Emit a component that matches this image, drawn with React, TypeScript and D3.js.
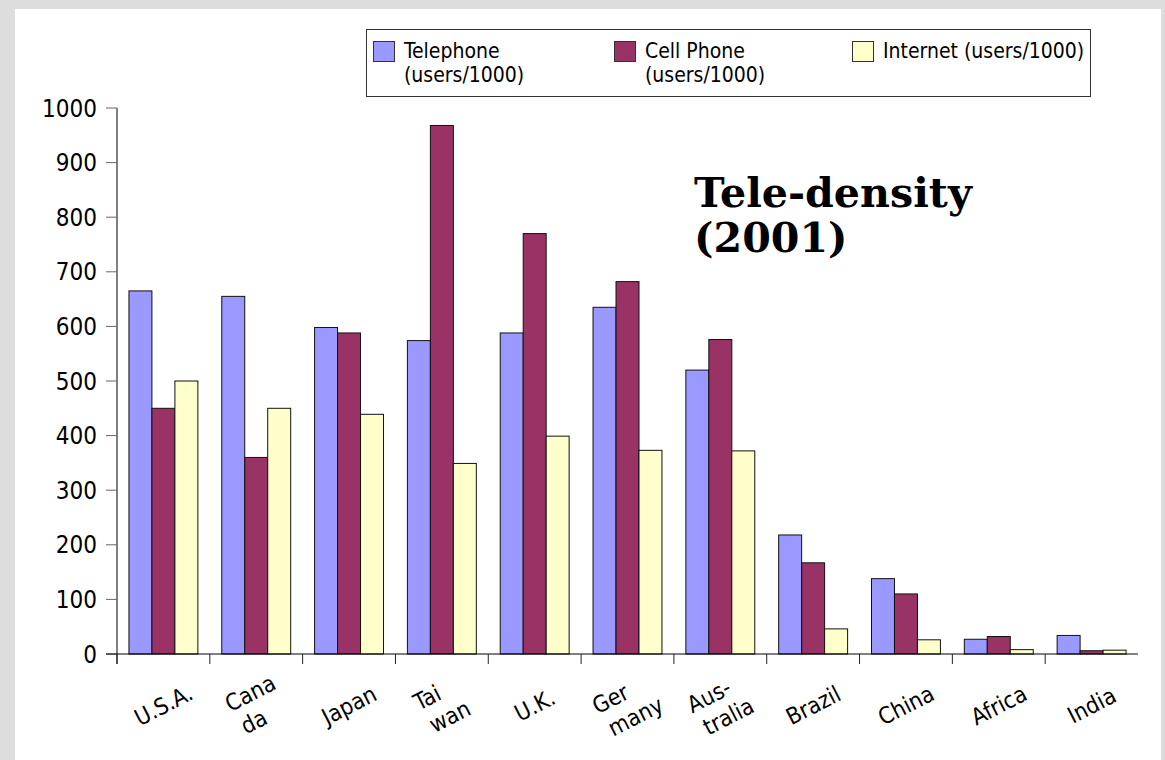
import React, { useEffect, useRef } from "react";
import * as d3 from "d3";

// Tele-density (2001): users per 1000 inhabitants
const countries = [
  ["U.S.A."],
  ["Cana", "da"],
  ["Japan"],
  ["Tai", "wan"],
  ["U.K."],
  ["Ger", "many"],
  ["Aus-", "tralia"],
  ["Brazil"],
  ["China"],
  ["Africa"],
  ["India"],
];
const telephone = [665, 655, 598, 574, 588, 635, 520, 218, 138, 27, 34];
const cellPhone = [450, 360, 588, 968, 770, 682, 576, 167, 110, 32, 6];
const internet = [500, 450, 439, 349, 399, 373, 372, 46, 26, 8, 7];
const yTicks = [0, 100, 200, 300, 400, 500, 600, 700, 800, 900, 1000];

const seriesNames = ["tel", "cell", "net"];
const seriesLegend = [
  ["Telephone", "(users/1000)"],
  ["Cell Phone", "(users/1000)"],
  ["Internet (users/1000)"],
];
const seriesColors = ["#9999ff", "#993366", "#ffffcc"];
const titleLines = ["Tele-density", "(2001)"];

const W = 1165;
const H = 760;
const FONT = "'DejaVu Sans Condensed', 'DejaVu Sans', sans-serif";

export default function App() {
  const ref = useRef<SVGSVGElement | null>(null);

  useEffect(() => {
    const svg = d3.select(ref.current);
    svg.selectAll("*").remove();

    // page frame
    svg.append("rect").attr("width", W).attr("height", H).attr("fill", "#dddddd");
    svg.append("rect").attr("x", 15).attr("y", 9).attr("width", 1146).attr("height", H - 9).attr("fill", "#ffffff");

    const keys = countries.map((c) => c.join(""));
    const x = d3.scaleBand<string>().domain(keys).range([117, 1138]).paddingInner(0).paddingOuter(0);
    const xs = d3.scaleBand<string>().domain(seriesNames).range([0, x.bandwidth()]).paddingInner(0).paddingOuter(0.52);
    const y = d3.scaleLinear().domain([0, 1000]).range([654, 108]);

    const values = [telephone, cellPhone, internet];

    // bars
    const bars = svg.append("g");
    keys.forEach((k, i) => {
      seriesNames.forEach((s, j) => {
        const v = values[j][i];
        bars
          .append("rect")
          .attr("x", (x(k) as number) + (xs(s) as number))
          .attr("y", y(v))
          .attr("width", xs.bandwidth())
          .attr("height", y(0) - y(v))
          .attr("fill", seriesColors[j])
          .attr("stroke", "#111")
          .attr("stroke-width", 1);
      });
    });

    // y axis
    const ya = svg.append("g");
    ya.append("line").attr("x1", 117).attr("x2", 117).attr("y1", y(1000)).attr("y2", 664).attr("stroke", "#000");
    yTicks.forEach((t) => {
      ya.append("line").attr("x1", 106).attr("x2", 117).attr("y1", y(t)).attr("y2", y(t)).attr("stroke", "#666");
      ya.append("text")
        .attr("x", 97)
        .attr("y", y(t))
        .attr("dy", "0.36em")
        .attr("text-anchor", "end")
        .attr("font-family", FONT)
        .attr("font-size", 24)
        .attr("fill", "#000")
        .text(String(t));
    });

    // x axis
    const xa = svg.append("g");
    xa.append("line").attr("x1", 106).attr("x2", 1138).attr("y1", y(0)).attr("y2", y(0)).attr("stroke", "#000");
    keys.forEach((k) => {
      const bx = x(k) as number;
      xa.append("line").attr("x1", bx).attr("x2", bx).attr("y1", y(0)).attr("y2", 664).attr("stroke", "#222");
    });

    // category labels, rotated, lines left-aligned
    const angle = -27;
    const fs = 23;
    const lh = 27;
    countries.forEach((lines, i) => {
      const cx = (x(keys[i]) as number) + x.bandwidth() / 2;
      const g = xa.append("g").attr("transform", `translate(${cx},705) rotate(${angle})`);
      const inner = g.append("g");
      const texts = lines.map((ln, li) =>
        inner
          .append("text")
          .attr("x", li > 0 ? 4 : 0)
          .attr("y", li * lh)
          .attr("font-family", FONT)
          .attr("font-size", fs)
          .attr("fill", "#000")
          .text(ln)
      );
      let wmax = 0;
      texts.forEach((t, li) => {
        const w = (t.node() as SVGTextElement).getComputedTextLength() + (li > 0 ? 4 : 0);
        wmax = Math.max(wmax, w);
      });
      const cy = ((lines.length - 1) * lh) / 2 - 0.36 * fs;
      inner.attr("transform", `translate(${-wmax / 2},${-cy})`);
    });

    // legend
    const lg = svg.append("g");
    lg.append("rect").attr("x", 366.5).attr("y", 29.5).attr("width", 724).attr("height", 67).attr("fill", "#fff").attr("stroke", "#333");
    const legendX = [373, 614, 852];
    seriesLegend.forEach((lines, j) => {
      lg.append("rect")
        .attr("x", legendX[j] + 0.5)
        .attr("y", 41.5)
        .attr("width", 21)
        .attr("height", 20)
        .attr("fill", seriesColors[j])
        .attr("stroke", "#333");
      lines.forEach((ln, li) => {
        lg.append("text")
          .attr("x", legendX[j] + 31)
          .attr("y", 58 + li * 24)
          .attr("font-family", FONT)
          .attr("font-size", 21)
          .attr("fill", "#000")
          .text(ln);
      });
    });

    // title
    titleLines.forEach((ln, li) => {
      svg.append("text")
        .attr("x", 694)
        .attr("y", 207 + li * 45)
        .attr("font-family", "'DejaVu Serif', serif")
        .attr("font-weight", "bold")
        .attr("font-size", 41.2)
        .attr("fill", "#000")
        .text(ln);
    });
  }, []);

  return (
    <svg
      ref={ref}
      width={W}
      height={H}
      style={{ position: "absolute", left: 0, top: 0, display: "block" }}
    />
  );
}
